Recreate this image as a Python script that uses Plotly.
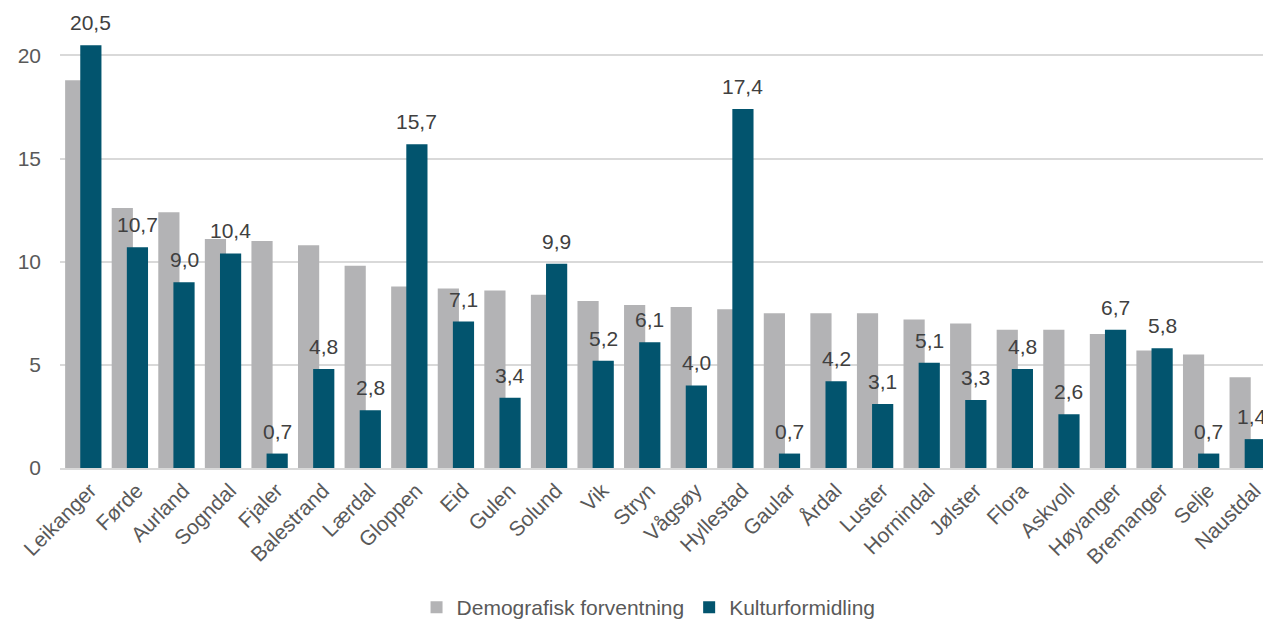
import plotly.graph_objects as go

categories = ["Leikanger", "Førde", "Aurland", "Sogndal", "Fjaler", "Balestrand", "Lærdal",
              "Gloppen", "Eid", "Gulen", "Solund", "Vik", "Stryn", "Vågsøy", "Hyllestad",
              "Gaular", "Årdal", "Luster", "Hornindal", "Jølster", "Flora", "Askvoll",
              "Høyanger", "Bremanger", "Selje", "Naustdal"]
demografisk = [18.8, 12.6, 12.4, 11.1, 11.0, 10.8, 9.8, 8.8, 8.7, 8.6, 8.4, 8.1, 7.9, 7.8,
               7.7, 7.5, 7.5, 7.5, 7.2, 7.0, 6.7, 6.7, 6.5, 5.7, 5.5, 4.4]
kultur = [20.5, 10.7, 9.0, 10.4, 0.7, 4.8, 2.8, 15.7, 7.1, 3.4, 9.9, 5.2, 6.1, 4.0, 17.4,
          0.7, 4.2, 3.1, 5.1, 3.3, 4.8, 2.6, 6.7, 5.8, 0.7, 1.4]
y_ticks = [0, 5, 10, 15, 20]

GRAY = "#B3B3B5"
TEAL = "#02546E"
TXT = "#595959"
FONT = "Liberation Sans, Arial, sans-serif"
FS = 21

BW = 0.455
OFF_G = -0.39
OFF_K = -0.065

fig = go.Figure()
fig.add_trace(go.Bar(x=list(range(len(categories))), y=demografisk, name="Demografisk forventning",
                     marker_color=GRAY, marker_line_width=0, width=BW, offset=OFF_G))
fig.add_trace(go.Bar(x=list(range(len(categories))), y=kultur, name="Kulturformidling",
                     marker_color=TEAL, marker_line_width=0, width=BW, offset=OFF_K))

annotations = []
n = len(kultur)
for i, v in enumerate(kultur):
    annotations.append(dict(x=i + OFF_K + BW / 2, y=v, xref="x", yref="y",
                            text=f"{v:.1f}".replace(".", ","), showarrow=False,
                            yanchor="bottom", yshift=9, xshift=-3 if i == n - 1 else 0,
                            font=dict(family=FONT, size=FS, color="#404040")))

# page body has an 8px default margin; figure is sized to fill the remaining window
fig.update_layout(
    width=1263, height=613,
    margin=dict(l=52, r=0, t=0, b=153, autoexpand=False),
    barmode="overlay",
    plot_bgcolor="white", paper_bgcolor="white",
    font=dict(family=FONT, size=FS, color=TXT),
    annotations=annotations,
    legend=dict(orientation="h", x=0.486, xanchor="center", y=-0.3035, yanchor="middle",
                font=dict(family=FONT, size=FS, color=TXT), itemwidth=30,
                traceorder="normal"),
    xaxis=dict(tickmode="array", tickvals=list(range(len(categories))), ticktext=categories,
               tickangle=-45, range=[-0.5, len(categories) - 0.5], showgrid=False,
               showline=True, linecolor="#D9D9D9", linewidth=2, ticks="",
               automargin=False, ticklabelshift=7,
               tickfont=dict(family=FONT, size=FS, color=TXT)),
    yaxis=dict(range=[0, 22.3], tickvals=y_ticks, ticktext=[str(t) for t in y_ticks],
               showgrid=True, gridcolor="#D9D9D9", gridwidth=1.5, zeroline=False,
               showline=False, ticks="", ticklabelstandoff=18, automargin=False,
               tickfont=dict(family=FONT, size=FS, color=TXT)),
)

fig.write_html("out.html")
